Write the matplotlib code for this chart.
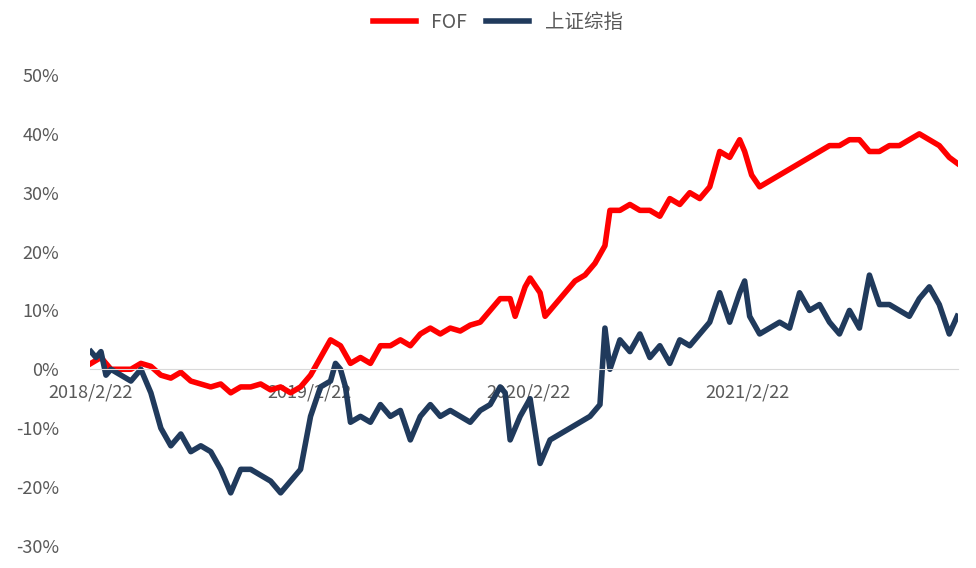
import matplotlib.pyplot as plt
import matplotlib.dates as mdates
import numpy as np
import pandas as pd

plt.rcParams['font.family'] = ['Noto Sans CJK SC', 'DejaVu Sans']

start = pd.Timestamp('2018-02-22')
days_per_px = 365 / 219.0

# sample positions (px along the time axis from the start) and values in %
fof_pos = [0, 10, 20, 30, 40, 50, 60, 70, 80, 90, 100, 110, 120, 130, 140, 150, 160, 170, 180, 190,
           200, 210, 220, 230, 240, 250, 260, 270, 280, 290, 300, 310, 320, 330, 340, 350, 360, 370,
           380, 390, 400, 410, 420, 425, 435, 440, 450, 455, 465, 475, 485, 495, 505, 515, 520, 530,
           540, 550, 560, 570, 580, 590, 600, 610, 620, 630, 640, 650, 655, 662, 670, 680, 690, 700,
           710, 720, 730, 740, 750, 760, 770, 780, 790, 800, 810, 820, 830, 840, 850, 860, 868]
fof = [1, 2, 0, 0, 0, 1, 0.5, -1, -1.5, -0.5, -2, -2.5, -3, -2.5, -4, -3, -3, -2.5, -3.5, -3,
       -4, -3, -1, 2, 5, 4, 1, 2, 1, 4, 4, 5, 4, 6, 7, 6, 7, 6.5,
       7.5, 8, 10, 12, 12, 9, 14, 15.5, 13, 9, 11, 13, 15, 16, 18, 21, 27, 27,
       28, 27, 27, 26, 29, 28, 30, 29, 31, 37, 36, 39, 37, 33, 31, 32, 33, 34,
       35, 36, 37, 38, 38, 39, 39, 37, 37, 38, 38, 39, 40, 39, 38, 36, 35]

sh_pos = [0, 5, 10, 15, 20, 30, 40, 50, 60, 70, 80, 90, 100, 110, 120, 130, 140, 150, 160, 170,
          180, 190, 200, 210, 220, 230, 240, 245, 250, 255, 260, 270, 280, 290, 300, 310, 320, 330,
          340, 350, 360, 370, 380, 390, 400, 410, 415, 420, 430, 440, 450, 460, 470, 480, 490, 500,
          510, 515, 520, 530, 540, 550, 560, 570, 580, 590, 600, 610, 620, 630, 640, 650, 655, 660,
          670, 680, 690, 700, 710, 720, 730, 740, 750, 760, 770, 780, 790, 800, 810, 820, 830, 840,
          850, 860, 868]
sh = [3, 2, 3, -1, 0, -1, -2, 0, -4, -10, -13, -11, -14, -13, -14, -17, -21, -17, -17, -18,
      -19, -21, -19, -17, -8, -3, -2, 1, 0, -3, -9, -8, -9, -6, -8, -7, -12, -8,
      -6, -8, -7, -8, -9, -7, -6, -3, -4, -12, -8, -5, -16, -12, -11, -10, -9, -8,
      -6, 7, 0, 5, 3, 6, 2, 4, 1, 5, 4, 6, 8, 13, 8, 13, 15, 9,
      6, 7, 8, 7, 13, 10, 11, 8, 6, 10, 7, 16, 11, 11, 10, 9, 12, 14,
      11, 6, 9]

tick_labels = ['2018/2/22', '2019/2/22', '2020/2/22', '2021/2/22']

fof_dates = [start + pd.Timedelta(days=p * days_per_px) for p in fof_pos]
sh_dates = [start + pd.Timedelta(days=p * days_per_px) for p in sh_pos]

fig = plt.figure(figsize=(9.76, 5.68), dpi=100)
ax = fig.add_axes([0.092, 0.039, 0.89, 0.829])
ax.plot(fof_dates, fof, color='#FF0000', lw=4, label='FOF')
ax.plot(sh_dates, sh, color='#203A5C', lw=4, label='上证综指')

ax.set_ylim(-30, 50)
ax.set_yticks(np.arange(-30, 51, 10))
ax.set_yticklabels([f'{v}%' for v in range(-30, 51, 10)])
ax.set_xlim(start - pd.Timedelta(days=2), max(fof_dates[-1], sh_dates[-1]) + pd.Timedelta(days=2))
ax.set_xticks([pd.Timestamp(t.replace('/', '-')) for t in tick_labels])
ax.set_xticklabels(tick_labels)

for s in ['top', 'right', 'left']:
    ax.spines[s].set_visible(False)
ax.spines['bottom'].set_position(('data', 0))
ax.spines['bottom'].set_color('#D9D9D9')
ax.tick_params(axis='x', length=0, pad=10, labelsize=13, labelcolor='#595959')
ax.tick_params(axis='y', length=0, pad=22, labelsize=13, labelcolor='#595959')

fig.legend(loc='upper center', bbox_to_anchor=(0.51, 1.01), ncol=2, frameon=False,
           fontsize=14, labelcolor='#595959', handlelength=2.2, columnspacing=1.0)
fig.savefig('out.png', dpi=100)
